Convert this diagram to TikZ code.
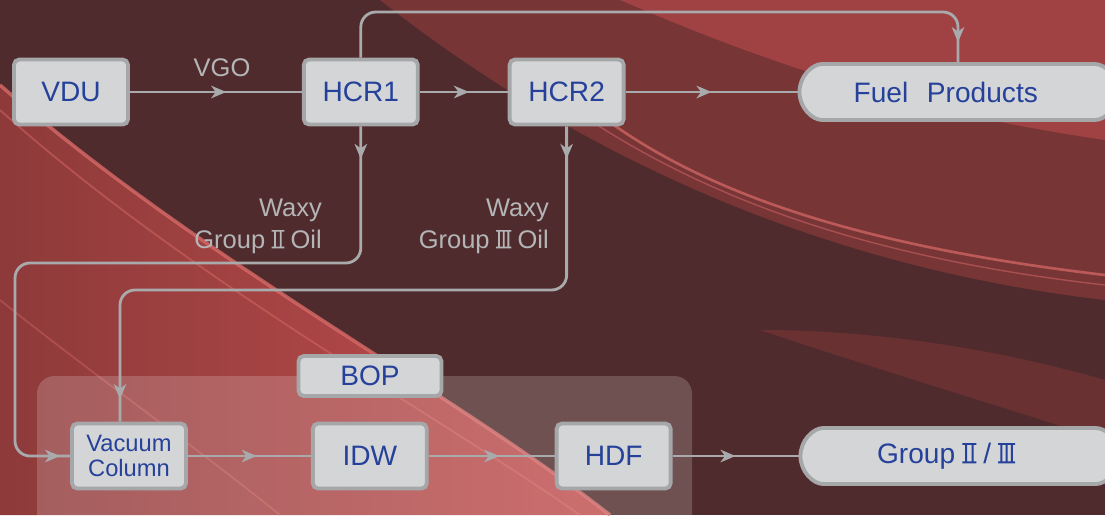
\documentclass[tikz,border=0pt]{standalone}
\usepackage{fontspec}
\setmainfont{Liberation Sans}
\usetikzlibrary{positioning,shapes.misc,decorations.markings,arrows.meta}
\definecolor{boxfill}{HTML}{D4D5D7}
\definecolor{boxline}{HTML}{A6A7A9}
\definecolor{boxtext}{HTML}{25419A}
\definecolor{flowc}{HTML}{A9AAAC}
\definecolor{labeltext}{HTML}{B4B5B7}
\definecolor{bgdark}{HTML}{502B2D}
\definecolor{bgred}{HTML}{8A3A3B}
\definecolor{bgbright}{HTML}{C24E4F}
\definecolor{bglow}{HTML}{8E3A3A}
\definecolor{bgpink}{HTML}{D86A68}
% roman numerals with bars
\newcommand{\gII}{\kern0.25em\tikz[baseline=0pt,x=1em,y=1em,sharp corners]{%
  \fill (0,0) rectangle (0.5,0.065) (0,0.655) rectangle (0.5,0.72)
        (0.1,0) rectangle (0.17,0.72) (0.33,0) rectangle (0.4,0.72);}\kern0.25em}
\newcommand{\gIII}{\kern0.25em\tikz[baseline=0pt,x=1em,y=1em,sharp corners]{%
  \fill (0,0) rectangle (0.6,0.065) (0,0.655) rectangle (0.6,0.72)
        (0.08,0) rectangle (0.15,0.72) (0.265,0) rectangle (0.335,0.72)
        (0.45,0) rectangle (0.52,0.72);}\kern0.25em}
\tikzset{flowtip/.tip={Stealth[length=0.3cm,width=0.25cm,inset=0.09cm,color=flowc]}}

\begin{document}
\begin{tikzpicture}[
    x=0.02cm, y=-0.02cm,
    box/.style={draw=boxline, fill=boxfill, line width=2.2pt, rounded corners=3pt,
                minimum width=2.28cm, minimum height=1.3cm, text=boxtext,
                font=\fontsize{16}{18}\selectfont},
    pill/.style={box, rounded rectangle, minimum width=6.6cm, minimum height=1.12cm},
    lbl/.style={text=labeltext, align=right, font=\fontsize{14.5}{18}\selectfont},
    flow/.style={draw=flowc, line width=1.6pt, rounded corners=0.3cm},
    arrowpos/.style={postaction={decorate, decoration={markings,
                     mark=at position #1 with {\arrow{flowtip}}}}}
]
% background
\clip (0,0) rectangle (1105,515);
\fill[bgdark] (0,0) rectangle (1105,515);
\fill[bgred, opacity=0.7] (380,0) .. controls (520,110) and (760,260) .. (1105,300) -- (1105,0) -- cycle;
\fill[bgbright, opacity=0.55] (620,0) .. controls (760,60) and (900,110) .. (1105,140) -- (1105,0) -- cycle;
\draw[bgpink, line width=1.5pt, opacity=0.7] (600,115) .. controls (700,190) and (850,245) .. (1105,275);
\draw[bgpink, line width=0.8pt, opacity=0.5] (560,100) .. controls (680,185) and (840,255) .. (1105,285);
\fill[bgred, opacity=0.45] (760,330) .. controls (880,370) and (980,400) .. (1105,440) -- (1105,380) .. controls (1000,350) and (880,330) .. cycle;
\shade[left color=bglow, right color=bgbright] (0,85) .. controls (200,260) and (450,390) .. (610,515) -- (0,515) -- cycle;
\draw[bgpink, line width=2pt, opacity=0.8] (0,85) .. controls (200,260) and (450,390) .. (610,515);
\draw[bgpink, line width=1pt, opacity=0.5] (0,110) .. controls (190,280) and (430,410) .. (580,515);
\draw[bgpink, line width=1pt, opacity=0.4] (0,300) .. controls (100,380) and (200,450) .. (280,515);

% BOP panel
\fill[white, opacity=0.18, rounded corners=10pt] (37,376) rectangle (692,540);

% units
\node (vdu) [box] at (71,92) {VDU};
\node (hcr1) [box, right=3.44cm of vdu] {HCR1};
\node (hcr2) [box, right=1.76cm of hcr1] {HCR2};
\node (fuel) [pill, right=3.44cm of hcr2, text width=5.9cm, align=left] {\hspace{0.85cm}Fuel\ \ Products};
\node (vac) [box, font=\fontsize{13.5}{14}\selectfont, align=center, inner sep=1pt] at (129,456) {Vacuum\\Column};
\node (idw) [box, right=2.46cm of vac] {IDW};
\node (hdf) [box, right=2.52cm of idw] {HDF};
\node (group) [pill, right=2.52cm of hdf, text width=5.9cm, align=left] {\hspace{1.3cm}Group\gII/\gIII};
\node (bop) [box, minimum width=2.86cm, minimum height=0.8cm] at (370,376) {BOP};

% labels
\node (vgo) [lbl] at (222,68) {VGO};
\node (waxyii) [lbl, anchor=north east] at (328,193) {Waxy\\Group\gII Oil};
\node (waxyiii) [lbl, anchor=north east] at (555,193) {Waxy\\Group\gIII Oil};

% flows
\coordinate (topline) at (0,12);
\draw [flow, arrowpos=0.56] (vdu) -- (hcr1);
\draw [flow, arrowpos=0.56] (hcr1) -- (hcr2);
\draw [flow, arrowpos=0.5] (hcr2) -- (fuel);
\draw [flow, arrowpos=-0.4cm] (hcr1.north) -- (hcr1.north |- topline) -- (958,12) -- (fuel.north -| 958,0);
\draw [flow, arrowpos=0.65cm, arrowpos=-0.2cm] (hcr1.south) -- (hcr1.south |- 0,263) -- (15,263) -- (15,456) -- (vac.west);
\draw [flow, arrowpos=0.65cm, arrowpos=-0.45cm] (hcr2.south) -- (hcr2.south |- 0,290) -- (120,290) -- (vac.north -| 120,0);
\draw [flow, arrowpos=0.56] (vac) -- (idw);
\draw [flow, arrowpos=0.56] (idw) -- (hdf);
\draw [flow, arrowpos=0.5] (hdf) -- (group);
\end{tikzpicture}
\end{document}
